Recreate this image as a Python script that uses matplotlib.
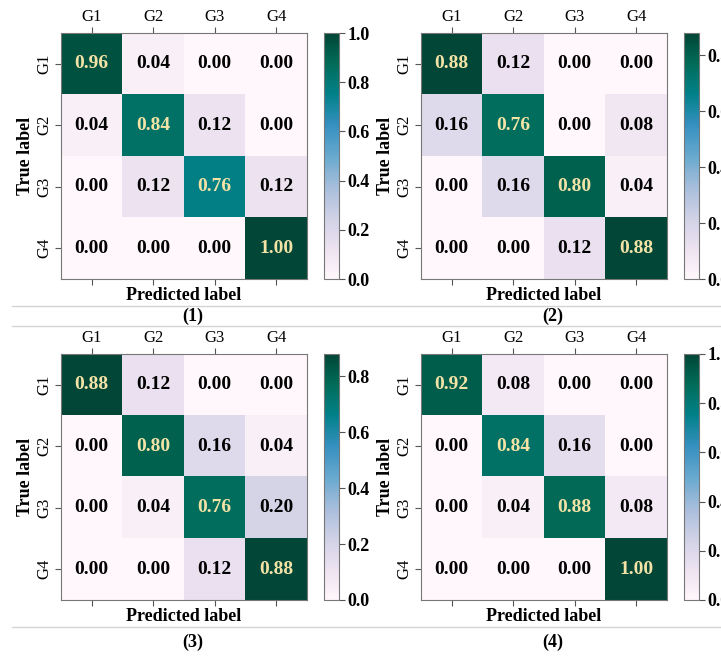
import numpy as np
import matplotlib.pyplot as plt
from matplotlib.lines import Line2D

plt.rcParams["font.family"] = ["Liberation Serif", "DejaVu Serif"]

classes = ["G1", "G2", "G3", "G4"]
panel_names = ["(1)", "(2)", "(3)", "(4)"]

cm1 = [[0.96, 0.04, 0.00, 0.00],
       [0.04, 0.84, 0.12, 0.00],
       [0.00, 0.12, 0.76, 0.12],
       [0.00, 0.00, 0.00, 1.00]]
cm2 = [[0.88, 0.12, 0.00, 0.00],
       [0.16, 0.76, 0.00, 0.08],
       [0.00, 0.16, 0.80, 0.04],
       [0.00, 0.00, 0.12, 0.88]]
cm3 = [[0.88, 0.12, 0.00, 0.00],
       [0.00, 0.80, 0.16, 0.04],
       [0.00, 0.04, 0.76, 0.20],
       [0.00, 0.00, 0.12, 0.88]]
cm4 = [[0.92, 0.08, 0.00, 0.00],
       [0.00, 0.84, 0.16, 0.00],
       [0.00, 0.04, 0.88, 0.08],
       [0.00, 0.00, 0.00, 1.00]]
matrices = [cm1, cm2, cm3, cm4]

W, H = 721, 656
fig = plt.figure(figsize=(W / 100, H / 100), dpi=100)


def px_rect(x0, y0, x1, y1):
    # pixel box (top-left origin) -> figure fraction rect
    return [x0 / W, 1 - y1 / H, (x1 - x0) / W, (y1 - y0) / H]


# (x offset, top y, caption y) of each panel
origins = [(61, 33, 316), (421, 33, 316), (61, 354, 642), (421, 354, 642)]
size = 246

for cm, name, (ox, oy, cy) in zip(matrices, panel_names, origins):
    cm = np.array(cm)
    ax = fig.add_axes(px_rect(ox, oy, ox + size, oy + size))
    cax = fig.add_axes(px_rect(ox + 263, oy, ox + 278, oy + size))

    im = ax.imshow(cm, cmap="PuBuGn", vmin=0, vmax=cm.max(), aspect="auto")
    for i in range(cm.shape[0]):
        for j in range(cm.shape[1]):
            v = cm[i, j]
            color = "#f3e3a6" if v > cm.max() / 2 else "black"
            ax.text(j, i, f"{v:.2f}", ha="center", va="center",
                    fontsize=14, fontweight="bold", color=color)

    ax.set_xticks(range(len(classes)))
    ax.set_yticks(range(len(classes)))
    ax.set_xticklabels(classes, fontsize=12)
    ax.set_yticklabels(classes, fontsize=12, rotation=90, va="center")
    ax.tick_params(axis="x", top=True, bottom=True, labeltop=True,
                   labelbottom=False, length=4, color="#555555", pad=2)
    ax.tick_params(axis="y", length=4, color="#555555", pad=2)
    ax.set_xlabel("Predicted label", fontsize=13, fontweight="bold", labelpad=2)
    ax.set_ylabel("True label", fontsize=13, fontweight="bold", labelpad=2)
    for s in ax.spines.values():
        s.set_edgecolor("#777777")

    cb = fig.colorbar(im, cax=cax)
    cb.set_ticks(np.arange(0, cm.max() + 0.001, 0.2))
    cb.ax.tick_params(labelsize=13, length=4, color="#555555", pad=2)
    for lab in cb.ax.get_yticklabels():
        lab.set_fontweight("bold")
    cb.outline.set_edgecolor("#777777")

    # caption under each panel
    fig.text((ox + 132) / W, 1 - cy / H, name, ha="center", va="center",
             fontsize=13, fontweight="bold")

# thin separator lines around the captions
for y in [306, 326, 627]:
    fig.add_artist(Line2D([12 / W, 1], [1 - y / H, 1 - y / H],
                          color="#d4d4d4", lw=1))

fig.savefig("out.png", dpi=100)
